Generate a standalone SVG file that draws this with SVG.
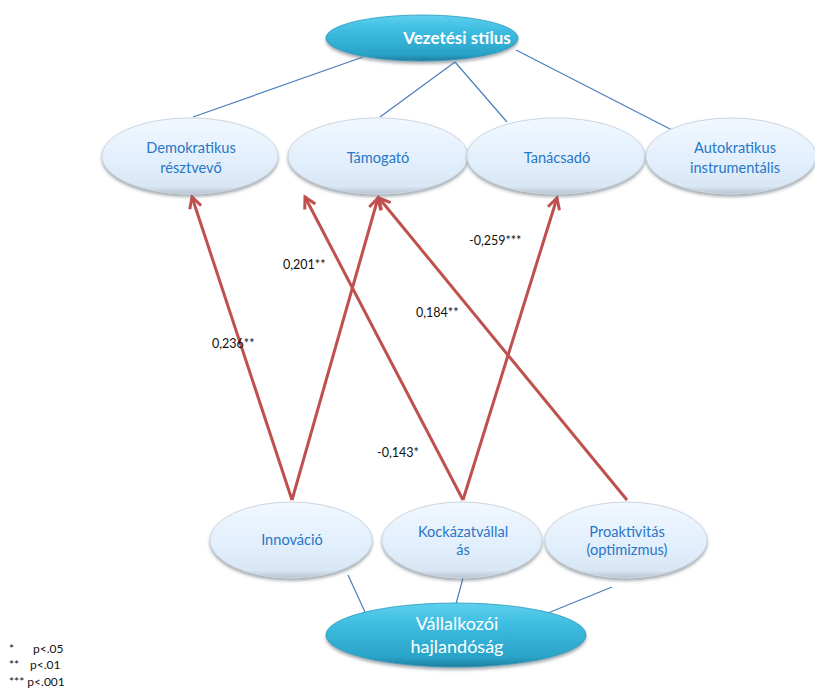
<svg xmlns="http://www.w3.org/2000/svg" width="815" height="688" viewBox="0 0 815 688">
  <defs>
    <linearGradient id="lightFill" x1="0" y1="0" x2="0" y2="1">
      <stop offset="0" stop-color="#F2F8FE"/>
      <stop offset="0.55" stop-color="#E2EFFC"/>
      <stop offset="0.9" stop-color="#D9E7F5"/>
      <stop offset="1" stop-color="#B6C3D1"/>
    </linearGradient>
    <linearGradient id="darkFill" x1="0" y1="0" x2="0" y2="1">
      <stop offset="0" stop-color="#5DD0EE"/>
      <stop offset="0.35" stop-color="#3DBCE0"/>
      <stop offset="0.85" stop-color="#2AA3C8"/>
      <stop offset="1" stop-color="#1E7E9E"/>
    </linearGradient>
    <filter id="shadow" x="-10%" y="-20%" width="120%" height="150%">
      <feDropShadow dx="0" dy="2.5" stdDeviation="1.6" flood-color="#5A6670" flood-opacity="0.55"/>
    </filter>
    <marker id="openArrow" markerUnits="userSpaceOnUse" markerWidth="16" markerHeight="16" viewBox="0 0 16 16" refX="13" refY="8" orient="auto">
      <path d="M2,2 L13,8 L2,14" fill="none" stroke="#C0504D" stroke-width="3" stroke-linejoin="miter"/>
    </marker>
    <style>
      .light { fill: url(#lightFill); stroke: #CBD6E2; stroke-width: 1; filter: url(#shadow); }
      .dark { fill: url(#darkFill); stroke: #2C98BC; stroke-width: 0.8; filter: url(#shadow); }
      .lbl { font-family: Lato, "Open Sans", "Liberation Sans", sans-serif; font-size: 14.6px; fill: #2877C6; text-anchor: middle; }
      .hdr { font-family: Lato, "Open Sans", "Liberation Sans", sans-serif; fill: #FFFFFF; text-anchor: middle; }
      .tie { stroke: #4A7EBB; stroke-width: 1.2; fill: none; }
      .path { stroke: #C0504D; stroke-width: 3; fill: none; marker-end: url(#openArrow); }
      .coef { font-family: Lato, "Open Sans", "Liberation Sans", sans-serif; font-size: 12.5px; fill: #111111; }
      .note { font-family: Lato, "Open Sans", "Liberation Sans", sans-serif; font-size: 12px; fill: #111111; }
    </style>
  </defs>

  <rect width="815" height="688" fill="#FFFFFF"/>

  <!-- connectors: thin hierarchy ties and weighted paths -->
  <g id="connectors">
    <line class="tie" x1="363" y1="57" x2="193" y2="117"/>
    <line class="tie" x1="455" y1="62" x2="380" y2="117"/>
    <line class="tie" x1="455" y1="62" x2="507" y2="122"/>
    <line class="tie" x1="516" y1="50" x2="672" y2="130"/>
    <line class="tie" x1="348" y1="575" x2="365" y2="612"/>
    <line class="tie" x1="463" y1="578" x2="456" y2="604"/>
    <line class="tie" x1="612" y1="587" x2="548" y2="613"/>

    <line class="path" x1="292" y1="500" x2="192" y2="197"/>
    <line class="path" x1="292" y1="500" x2="378" y2="198"/>
    <line class="path" x1="463" y1="500" x2="305" y2="197"/>
    <line class="path" x1="463" y1="500" x2="557" y2="198"/>
    <line class="path" x1="627" y1="500" x2="379" y2="198"/>

    <text class="coef" x="212" y="348">0,236**</text>
    <text class="coef" x="283" y="269">0,201**</text>
    <text class="coef" x="416" y="317">0,184**</text>
    <text class="coef" x="469" y="245">-0,259***</text>
    <text class="coef" x="377" y="457">-0,143*</text>
  </g>

  <g id="vezetesi-stilus">
    <ellipse class="dark" cx="422" cy="38" rx="96" ry="23"/>
    <text class="hdr" x="457" y="44" font-size="17" font-weight="bold">Vezetési stílus</text>
  </g>

  <g id="demokratikus">
    <ellipse class="light" cx="190" cy="156" rx="88" ry="38"/>
    <text class="lbl" x="191" y="153">Demokratikus</text>
    <text class="lbl" x="191" y="173">résztvevő</text>
  </g>

  <g id="tamogato">
    <ellipse class="light" cx="378" cy="156" rx="90" ry="38"/>
    <text class="lbl" x="378" y="163">Támogató</text>
  </g>

  <g id="tanacsado">
    <ellipse class="light" cx="556" cy="156" rx="89" ry="38"/>
    <text class="lbl" x="557" y="163">Tanácsadó</text>
  </g>

  <g id="autokratikus">
    <ellipse class="light" cx="731" cy="156" rx="85" ry="38"/>
    <text class="lbl" x="735" y="153">Autokratikus</text>
    <text class="lbl" x="735" y="173">instrumentális</text>
  </g>

  <g id="innovacio">
    <ellipse class="light" cx="291" cy="540" rx="81" ry="38"/>
    <text class="lbl" x="292" y="545">Innováció</text>
  </g>

  <g id="kockazatvallalas">
    <ellipse class="light" cx="462" cy="540" rx="80" ry="38"/>
    <text class="lbl" x="463" y="537">Kockázatvállal</text>
    <text class="lbl" x="463" y="555">ás</text>
  </g>

  <g id="proaktivitas">
    <ellipse class="light" cx="626" cy="540" rx="81" ry="38"/>
    <text class="lbl" x="627" y="537">Proaktivitás</text>
    <text class="lbl" x="627" y="555">(optimizmus)</text>
  </g>

  <g id="vallalkozoi-hajlandosag">
    <ellipse class="dark" cx="456" cy="635" rx="130" ry="32"/>
    <text class="hdr" x="457" y="630" font-size="18">Vállalkozói</text>
    <text class="hdr" x="457" y="653" font-size="18">hajlandóság</text>
  </g>

  <g id="legend">
    <text class="note" x="9" y="653">*</text>
    <text class="note" x="33" y="653">p&lt;.05</text>
    <text class="note" x="9" y="669">**</text>
    <text class="note" x="30" y="669">p&lt;.01</text>
    <text class="note" x="9" y="686">*** p&lt;.001</text>
  </g>
</svg>
